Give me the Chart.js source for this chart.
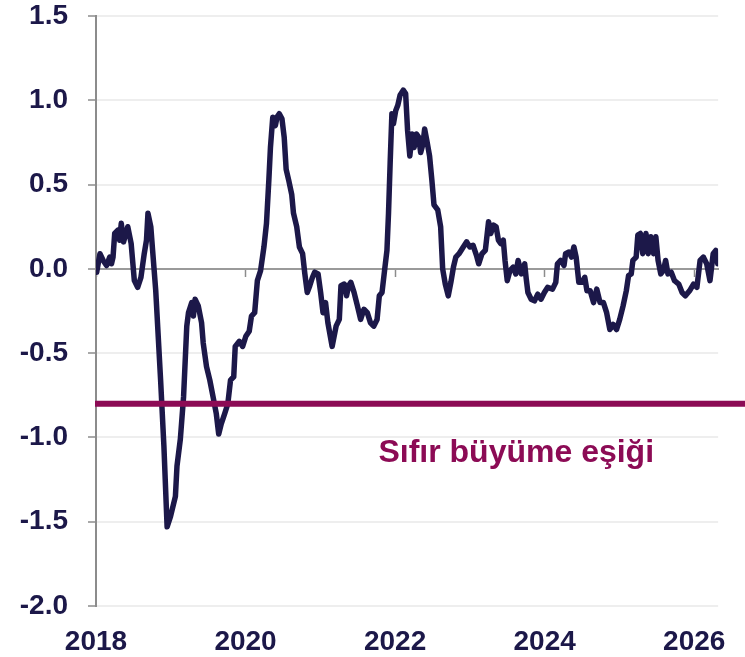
<!DOCTYPE html>
<html>
<head>
<meta charset="utf-8">
<script src="https://cdn.jsdelivr.net/npm/chart.js@4.4.1/dist/chart.umd.min.js"></script>
<style>
  html, body { margin: 0; padding: 0; background: #ffffff; }
  canvas { display: block; }
</style>
</head>
<body>
<canvas id="growthChart" width="745" height="657"></canvas>
<script>
// Chart data (decimal years / index values)
const dates = [
  2018.000, 2018.009, 2018.053, 2018.096, 2018.141, 2018.184, 2018.207, 2018.228, 2018.250, 2018.293,
  2018.316, 2018.338, 2018.368, 2018.425, 2018.470, 2018.513, 2018.557, 2018.601, 2018.645, 2018.675,
  2018.695, 2018.733, 2018.757, 2018.799, 2018.864, 2018.908, 2018.951, 2018.996, 2019.062, 2019.083,
  2019.128, 2019.171, 2019.214, 2019.237, 2019.280, 2019.303, 2019.325, 2019.368, 2019.412, 2019.434,
  2019.478, 2019.522, 2019.566, 2019.609, 2019.641, 2019.675, 2019.720, 2019.763, 2019.799, 2019.842,
  2019.862, 2019.917, 2019.961, 2020.004, 2020.049, 2020.079, 2020.122, 2020.158, 2020.201, 2020.246,
  2020.280, 2020.312, 2020.333, 2020.364, 2020.399, 2020.421, 2020.451, 2020.487, 2020.517, 2020.543,
  2020.575, 2020.618, 2020.641, 2020.684, 2020.720, 2020.763, 2020.793, 2020.825, 2020.859, 2020.895,
  2020.925, 2020.970, 2021.004, 2021.036, 2021.070, 2021.101, 2021.158, 2021.211, 2021.254, 2021.276,
  2021.320, 2021.351, 2021.378, 2021.408, 2021.451, 2021.496, 2021.539, 2021.583, 2021.628, 2021.671,
  2021.714, 2021.759, 2021.789, 2021.825, 2021.859, 2021.891, 2021.912, 2021.934, 2021.957, 2021.978,
  2022.009, 2022.036, 2022.066, 2022.109, 2022.141, 2022.167, 2022.197, 2022.228, 2022.254, 2022.286,
  2022.316, 2022.342, 2022.372, 2022.395, 2022.425, 2022.461, 2022.491, 2022.520, 2022.570, 2022.609,
  2022.636, 2022.671, 2022.711, 2022.746, 2022.780, 2022.812, 2022.855, 2022.912, 2022.957, 2023.000,
  2023.043, 2023.088, 2023.118, 2023.162, 2023.207, 2023.250, 2023.280, 2023.316, 2023.351, 2023.382,
  2023.412, 2023.447, 2023.470, 2023.500, 2023.536, 2023.579, 2023.614, 2023.645, 2023.688, 2023.733,
  2023.754, 2023.776, 2023.820, 2023.864, 2023.908, 2023.951, 2023.996, 2024.039, 2024.105, 2024.149,
  2024.171, 2024.214, 2024.259, 2024.280, 2024.325, 2024.359, 2024.391, 2024.421, 2024.457, 2024.500,
  2024.536, 2024.566, 2024.609, 2024.654, 2024.697, 2024.741, 2024.786, 2024.829, 2024.872, 2024.917,
  2024.961, 2025.004, 2025.049, 2025.092, 2025.122, 2025.158, 2025.180, 2025.224, 2025.246, 2025.280,
  2025.312, 2025.355, 2025.386, 2025.421, 2025.457, 2025.487, 2025.517, 2025.553, 2025.588, 2025.618,
  2025.649, 2025.693, 2025.737, 2025.793, 2025.838, 2025.882, 2025.938, 2025.991, 2026.036, 2026.079,
  2026.122, 2026.167, 2026.211, 2026.254, 2026.289, 2026.315
];

const values = [
  0.03, -0.02, 0.09, 0.05, 0.02, 0.07, 0.03, 0.07, 0.21, 0.23,
  0.17, 0.27, 0.16, 0.25, 0.15, -0.07, -0.11, -0.05, 0.09, 0.17,
  0.33, 0.25, 0.11, -0.13, -0.66, -1.05, -1.53, -1.47, -1.35, -1.17,
  -1.01, -0.76, -0.34, -0.26, -0.20, -0.28, -0.18, -0.22, -0.32, -0.44,
  -0.58, -0.66, -0.76, -0.86, -0.98, -0.92, -0.86, -0.80, -0.66, -0.64,
  -0.46, -0.43, -0.46, -0.40, -0.37, -0.28, -0.26, -0.07, -0.01, 0.13,
  0.27, 0.53, 0.72, 0.90, 0.85, 0.90, 0.92, 0.89, 0.78, 0.59,
  0.53, 0.44, 0.33, 0.25, 0.13, 0.09, -0.03, -0.14, -0.10, -0.05,
  -0.02, -0.03, -0.14, -0.26, -0.20, -0.32, -0.46, -0.34, -0.30, -0.10,
  -0.09, -0.16, -0.10, -0.08, -0.14, -0.22, -0.30, -0.24, -0.26, -0.32,
  -0.34, -0.30, -0.16, -0.14, -0.01, 0.11, 0.33, 0.63, 0.92, 0.86,
  0.94, 0.97, 1.03, 1.06, 1.04, 0.82, 0.67, 0.80, 0.72, 0.80,
  0.78, 0.69, 0.74, 0.83, 0.76, 0.67, 0.53, 0.38, 0.35, 0.25,
  0.00, -0.09, -0.16, -0.08, 0.01, 0.07, 0.09, 0.13, 0.16, 0.13,
  0.14, 0.08, 0.03, 0.09, 0.11, 0.28, 0.21, 0.26, 0.25, 0.17,
  0.15, 0.17, 0.05, -0.07, -0.01, 0.01, -0.03, 0.05, -0.03, 0.03,
  -0.06, -0.14, -0.18, -0.19, -0.15, -0.18, -0.14, -0.11, -0.12, -0.08,
  0.03, 0.05, 0.02, 0.09, 0.10, 0.07, 0.13, 0.07, -0.08, -0.08,
  -0.05, -0.13, -0.13, -0.20, -0.12, -0.20, -0.20, -0.26, -0.36, -0.33,
  -0.36, -0.30, -0.22, -0.13, -0.04, -0.03, 0.05, 0.07, 0.20, 0.21,
  0.09, 0.21, 0.09, 0.19, 0.09, 0.19, 0.05, -0.03, -0.01, 0.05,
  -0.03, -0.02, -0.07, -0.09, -0.14, -0.16, -0.13, -0.09, -0.11, 0.05,
  0.07, 0.03, -0.07, 0.09, 0.11, 0.03
];

const xTickYears = [2018, 2020, 2022, 2024, 2026];
const yTickValues = [-2.0, -1.5, -1.0, -0.5, 0.0, 0.5, 1.0, 1.5];
const thresholdValue = -0.8;
const thresholdLabel = 'Sıfır büyüme eşiği';

const colors = {
    navy: '#1c1849',
    maroon: '#8c0b55',
    axis: '#8c8c8c',
    grid: '#eeeeee'
};
const fontFamily = '"Liberation Sans", Arial, sans-serif';

const xMin = 2018;
const xMax = 2026.32;
const labelPos = { x: 2023.62, y: -1.145 };

// threshold line + label, drawn over the series and out to the right edge
const thresholdPlugin = {
    id: 'thresholdPlugin',
    afterDatasetsDraw(chart) {
        const { ctx, chartArea, scales } = chart;
        const py = scales.y.getPixelForValue(thresholdValue);
        ctx.save();
        ctx.strokeStyle = colors.maroon;
        ctx.lineWidth = 6;
        ctx.beginPath();
        ctx.moveTo(chartArea.left - 1, py);
        ctx.lineTo(chart.width, py);
        ctx.stroke();

        ctx.fillStyle = colors.maroon;
        ctx.font = 'bold 32px ' + fontFamily;
        ctx.textAlign = 'center';
        ctx.textBaseline = 'alphabetic';
        ctx.fillText(thresholdLabel, scales.x.getPixelForValue(labelPos.x), scales.y.getPixelForValue(labelPos.y));
        ctx.restore();
    }
};

const ctx = document.getElementById('growthChart').getContext('2d');

new Chart(ctx, {
    type: 'line',
    data: {
        datasets: [{
            data: dates.map((d, i) => ({ x: d, y: values[i] })),
            borderColor: colors.navy,
            borderWidth: 5.5,
            borderJoinStyle: 'round',
            borderCapStyle: 'round',
            pointRadius: 0,
            tension: 0,
            fill: false
        }]
    },
    options: {
        responsive: false,
        animation: false,
        layout: {
            padding: { left: 0, right: 17, top: 16, bottom: 0 }
        },
        scales: {
            x: {
                type: 'linear',
                position: 'bottom',
                min: xMin,
                max: xMax,
                afterFit: (scale) => {
                    scale.height = 51;
                    scale.paddingTop = 0;
                    scale.paddingBottom = 0;
                },
                afterBuildTicks: (scale) => {
                    scale.ticks = xTickYears.map(v => ({ value: v }));
                },
                grid: { display: false, drawTicks: false },
                border: { display: false },
                ticks: {
                    padding: 19,
                    maxRotation: 0,
                    autoSkip: false,
                    color: colors.navy,
                    font: { family: fontFamily, size: 28, weight: 'bold' },
                    callback: (v) => String(v)
                }
            },
            x0: {
                type: 'linear',
                axis: 'x',
                position: { y: 0 },
                min: xMin,
                max: xMax,
                afterFit: (scale) => {
                    scale.paddingTop = 0;
                    scale.paddingBottom = 0;
                },
                afterBuildTicks: (scale) => {
                    scale.ticks = xTickYears.map(v => ({ value: v }));
                },
                grid: {
                    drawOnChartArea: false,
                    drawTicks: true,
                    tickLength: 7,
                    tickColor: colors.axis,
                    tickWidth: 1.5
                },
                border: { color: '#9a9a9a', width: 2 },
                ticks: { display: false }
            },
            y: {
                min: -2,
                max: 1.5,
                afterFit: (scale) => {
                    scale.width = 96;
                    scale.paddingTop = 0;
                    scale.paddingBottom = 0;
                },
                afterBuildTicks: (scale) => {
                    scale.ticks = yTickValues.map(v => ({ value: v }));
                },
                grid: {
                    color: colors.grid,
                    lineWidth: 2,
                    tickLength: 8,
                    tickColor: colors.axis,
                    tickWidth: 1.5
                },
                border: { color: colors.axis, width: 2 },
                ticks: {
                    padding: 20,
                    color: colors.navy,
                    font: { family: fontFamily, size: 28, weight: 'bold' },
                    callback: (v) => Number(v).toFixed(1)
                }
            }
        },
        plugins: {
            legend: { display: false },
            tooltip: { enabled: false }
        }
    },
    plugins: [thresholdPlugin]
});
</script>
</body>
</html>
